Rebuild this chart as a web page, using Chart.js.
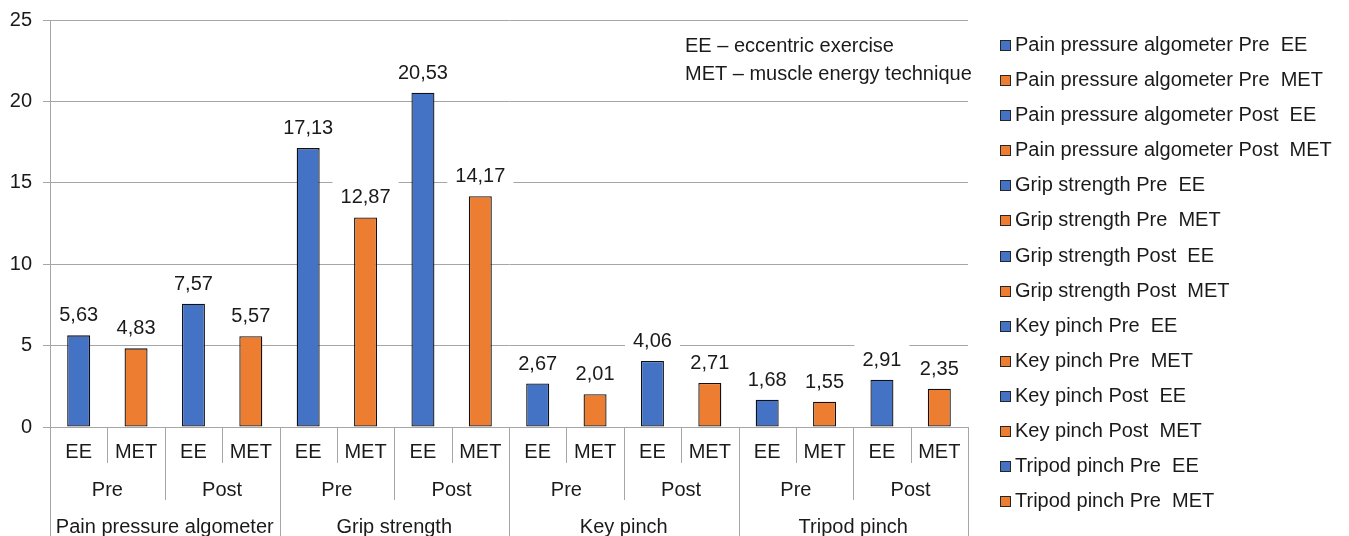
<!DOCTYPE html>
<html>
<head>
<meta charset="utf-8">
<script src="https://cdn.jsdelivr.net/npm/chart.js@4/dist/chart.umd.min.js"></script>
<style>
  html, body { margin: 0; padding: 0; background: #fff; }
  #wrap { position: relative; width: 1349px; height: 536px; }
</style>
</head>
<body>
<div id="wrap"><canvas id="c" width="1349" height="536"></canvas></div>
<script>
// ---- data ----
const groups = ['Pain pressure algometer', 'Grip strength', 'Key pinch', 'Tripod pinch'];
const phases = ['Pre', 'Post'];
const arms = ['EE', 'MET'];
const values = [5.63, 4.83, 7.57, 5.57, 17.13, 12.87, 20.53, 14.17, 2.67, 2.01, 4.06, 2.71, 1.68, 1.55, 2.91, 2.35];
const yTicks = [0, 5, 10, 15, 20, 25];
const notes = ['EE \u2013 eccentric exercise', 'MET \u2013 muscle energy technique'];

// ---- derived ----
const cats = [];
groups.forEach(g => phases.forEach(p => arms.forEach(a => cats.push({ g, p, a }))));
const labels = cats.map(c => c.a);
const legendLabels = cats.map(c => c.g + ' ' + c.p + '  ' + c.a);
const armColors = { EE: '#4472C4', MET: '#ED7D31' };
const colors = cats.map(c => armColors[c.a]);

const FONT = "'Liberation Sans', Arial, Helvetica, sans-serif";
const TXT = '#1a1a1a';
const GRID = '#a6a6a6';
const fmt = v => v.toFixed(2).replace('.', ',');

const decor = {
  id: 'decor',
  beforeDatasetsDraw(chart) {
    const ctx = chart.ctx;
    const meta = chart.getDatasetMeta(0);
    ctx.save();
    ctx.font = '20px ' + FONT;
    meta.data.forEach((bar, i) => {
      const t = fmt(values[i]);
      const w = ctx.measureText(t).width + 16;
      const cy = bar.y - 19.5;
      ctx.fillStyle = '#fff';
      ctx.fillRect(bar.x - w / 2, cy - 16, w, 32);
    });
    ctx.restore();
  },
  afterDatasetsDraw(chart) {
    const ctx = chart.ctx;
    const meta = chart.getDatasetMeta(0);
    const xs = chart.scales.x;
    ctx.save();
    ctx.font = '20px ' + FONT;
    ctx.fillStyle = TXT;
    ctx.textAlign = 'center';
    ctx.textBaseline = 'middle';
    meta.data.forEach((bar, i) => {
      ctx.fillText(fmt(values[i]), bar.x, bar.y - 19.5);
    });

    // multi-level category axis
    const n = cats.length;
    const centers = cats.map((c, i) => xs.getPixelForValue(i));
    const half = (centers[1] - centers[0]) / 2;
    const bounds = [];
    for (let i = 0; i <= n; i++) bounds.push(i < n ? centers[i] - half : centers[n - 1] + half);
    const y0 = xs.top;
    ctx.strokeStyle = GRID;
    ctx.lineWidth = 1;
    bounds.forEach((b, i) => {
      let yEnd;
      if (i % 4 === 0) yEnd = chart.height;
      else if (i % 2 === 0) yEnd = y0 + 73;
      else yEnd = y0 + 36;
      const xx = Math.round(b) + 0.5;
      ctx.beginPath();
      ctx.moveTo(xx, y0);
      ctx.lineTo(xx, yEnd);
      ctx.stroke();
    });
    ctx.fillStyle = TXT;
    cats.forEach((c, i) => ctx.fillText(c.a, centers[i], y0 + 25));
    for (let i = 0; i < n; i += 2) ctx.fillText(cats[i].p, (bounds[i] + bounds[i + 2]) / 2, y0 + 63);
    for (let i = 0; i < n; i += 4) ctx.fillText(cats[i].g, (bounds[i] + bounds[i + 4]) / 2, y0 + 100);

    // notes
    ctx.textAlign = 'left';
    notes.forEach((t, k) => ctx.fillText(t, 685, 46 + k * 28));

    // legend (entries that do not fit the frame are cut, as in the original)
    legendLabels.forEach((t, k) => {
      const cy = 45.5 + k * 35.09;
      if (cy + 12 > chart.height) return;
      const by = Math.round(cy - 5.5);
      ctx.fillStyle = colors[k];
      ctx.fillRect(1000, by, 11, 11);
      ctx.strokeStyle = '#262626';
      ctx.strokeRect(1000.5, by + 0.5, 10, 10);
      ctx.fillStyle = TXT;
      ctx.fillText(t, 1015, cy);
    });
    ctx.restore();
  }
};

new Chart(document.getElementById('c'), {
  type: 'bar',
  data: {
    labels,
    datasets: [{
      data: values,
      backgroundColor: colors,
      borderColor: '#111111',
      borderWidth: 1.3,
      borderSkipped: false,
      barPercentage: 0.401,
      categoryPercentage: 1.0
    }]
  },
  options: {
    responsive: false,
    animation: false,
    events: [],
    layout: { padding: { left: 0, top: 20, right: 381, bottom: 0 } },
    plugins: { legend: { display: false }, tooltip: { enabled: false } },
    scales: {
      x: {
        grid: { display: false },
        border: { display: false },
        ticks: { display: false },
        afterFit(s) { s.height = 109; s.paddingLeft = 0; s.paddingRight = 0; }
      },
      y: {
        min: yTicks[0],
        max: yTicks[yTicks.length - 1],
        afterBuildTicks(s) { s.ticks = yTicks.map(v => ({ value: v })); },
        grid: { color: GRID, lineWidth: 1, drawTicks: true, tickLength: 7 },
        border: { display: true, color: GRID, width: 1 },
        ticks: { font: { family: FONT, size: 20 }, color: TXT, padding: 11 },
        afterFit(s) { s.width = 50; s.paddingTop = 0; s.paddingBottom = 0; }
      }
    }
  },
  plugins: [decor]
});
</script>
</body>
</html>
